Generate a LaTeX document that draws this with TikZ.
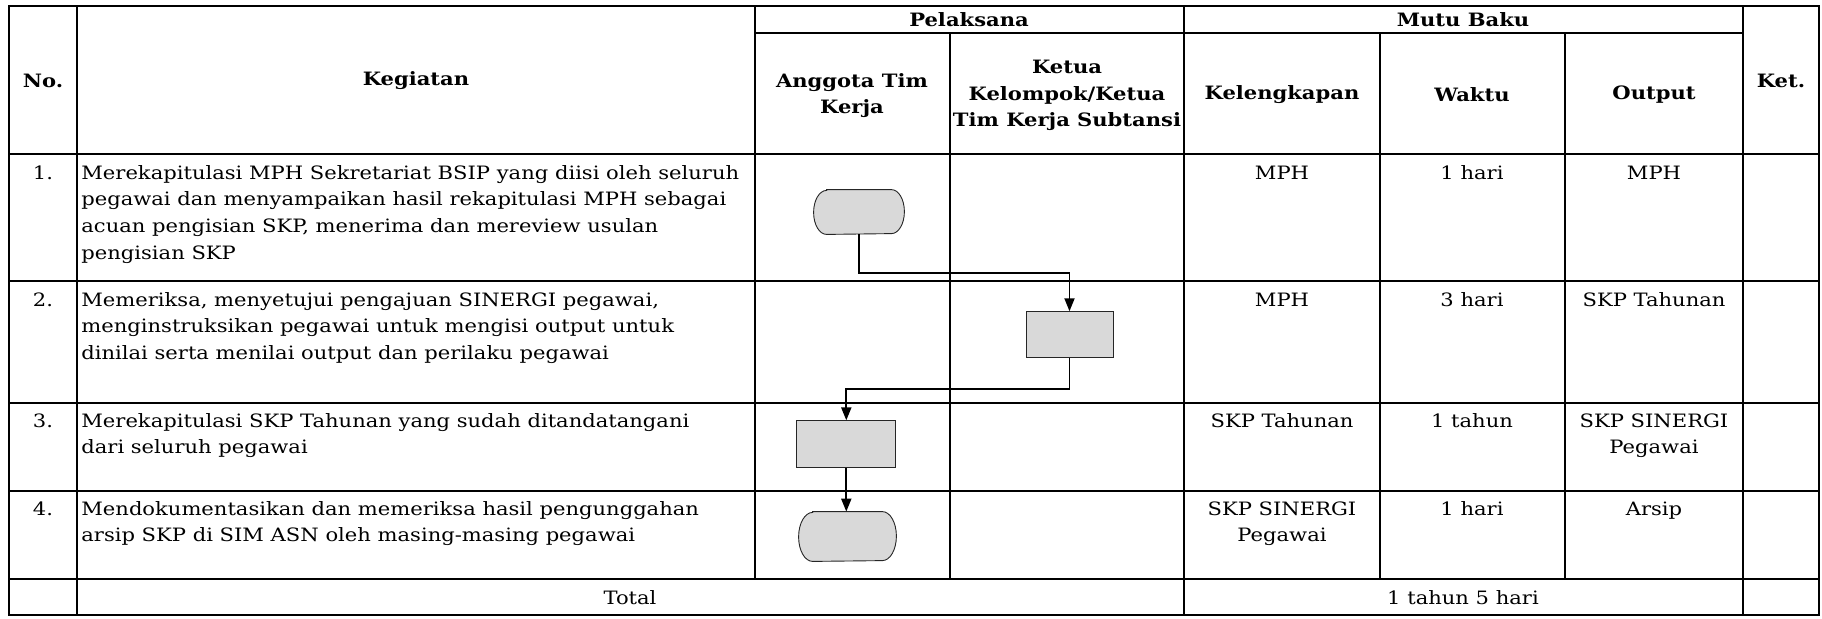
\documentclass[tikz,border=0pt]{standalone}
\usepackage{fontspec}
\setmainfont{DejaVu Serif}[FakeStretch=1.145]
\usetikzlibrary{arrows.meta,calc}
\newcommand{\bodyfont}{\fontsize{9.2}{13.35}\selectfont}
\newcommand{\headfont}{\fontsize{9.2}{13.35}\selectfont\bfseries}
% terminator outline drawn around a named node: #1 name, #2 corner x radius, #3 half height
\newcommand{\termoutline}[3]{%
  \draw[termdraw] ($(#1.north west)+(#2,0)$) -- ($(#1.north east)+(-#2,0)$)
    arc[start angle=90,end angle=-90,x radius=#2,y radius=#3]
    -- ($(#1.south west)+(#2,0)$)
    arc[start angle=270,end angle=90,x radius=#2,y radius=#3] -- cycle;}
\begin{document}
\begin{tikzpicture}[x=0.5pt,y=-0.5pt,
  grid/.style={line width=0.95pt},
  body/.style={inner sep=0pt,font=\bodyfont},
  lefttext/.style={body,anchor=north west,align=left},
  ctext/.style={body,anchor=north,align=center},
  head/.style={inner sep=0pt,font=\headfont,align=center},
  termnode/.style={rectangle,draw=none,inner sep=0pt},
  termdraw/.style={draw=black!85,line width=0.45pt,fill=black!15},
  proc/.style={rectangle,draw=black!85,line width=0.45pt,fill=black!15,inner sep=0pt},
  conn/.style={line width=0.95pt,-{Triangle[length=6.5pt,width=5pt]}}]
\useasboundingbox (0,0) rectangle (1822,618);
% grid
\draw[grid] (9,6) rectangle (1819,615);
\foreach \y in {154,281,403,491,579} \draw[grid] (9,\y) -- (1819,\y);
\draw[grid] (755,33) -- (1743,33);
\draw[grid] (77,6) -- (77,615);
\draw[grid] (755,6) -- (755,579);
\draw[grid] (950,33) -- (950,579);
\draw[grid] (1184,6) -- (1184,615);
\draw[grid] (1380,33) -- (1380,579);
\draw[grid] (1565,33) -- (1565,579);
\draw[grid] (1743,6) -- (1743,615);
% header
\node[head] (hno) at (43,81) {No.};
\node[head] (hkeg) at (416,81) {Kegiatan};
\node[head] (hpel) at (969,20) {Pelaksana};
\node[head] (hmutu) at (1463,20) {Mutu Baku};
\node[head] (hket) at (1781,81) {Ket.};
\node[head] (hang) at (852,95.5) {Anggota Tim\\Kerja};
\node[head] (hketua) at (1067,95.5) {Ketua\\Kelompok/Ketua\\Tim Kerja Subtansi};
\node[head] (hkel) at (1282,95) {Kelengkapan};
\node[head] (hwak) at (1472,95) {Waktu};
\node[head] (hout) at (1654,95) {Output};
% numbers
\node[ctext] (n1) at (43,160) {\strut 1.};
\node[ctext] (n2) at (43,287) {\strut 2.};
\node[ctext] (n3) at (43,408) {\strut 3.};
\node[ctext] (n4) at (43,496) {\strut 4.};
% activities
\node[lefttext] (k1) at (81,160) {\strut Merekapitulasi MPH Sekretariat BSIP yang diisi oleh seluruh\\pegawai dan menyampaikan hasil rekapitulasi MPH sebagai\\acuan pengisian SKP, menerima dan mereview usulan\\pengisian SKP};
\node[lefttext] (k2) at (81,287) {\strut Memeriksa, menyetujui pengajuan SINERGI pegawai,\\menginstruksikan pegawai untuk mengisi output untuk\\dinilai serta menilai output dan perilaku pegawai};
\node[lefttext] (k3) at (81,408) {\strut Merekapitulasi SKP Tahunan yang sudah ditandatangani\\dari seluruh pegawai};
\node[lefttext] (k4) at (81,496) {\strut Mendokumentasikan dan memeriksa hasil pengunggahan\\arsip SKP di SIM ASN oleh masing-masing pegawai};
% mutu baku
\node[ctext] (l1) at (1282,160) {\strut MPH};
\node[ctext] (w1) at (1472,160) {\strut 1 hari};
\node[ctext] (o1) at (1654,160) {\strut MPH};
\node[ctext] (l2) at (1282,287) {\strut MPH};
\node[ctext] (w2) at (1472,287) {\strut 3 hari};
\node[ctext] (o2) at (1654,287) {\strut SKP Tahunan};
\node[ctext] (l3) at (1282,408) {\strut SKP Tahunan};
\node[ctext] (w3) at (1472,408) {\strut 1 tahun};
\node[ctext] (o3) at (1654,408) {\strut SKP SINERGI\\Pegawai};
\node[ctext] (l4) at (1282,496) {\strut SKP SINERGI\\Pegawai};
\node[ctext] (w4) at (1472,496) {\strut 1 hari};
\node[ctext] (o4) at (1654,496) {\strut Arsip};
% total
\node[body] (tot) at (630,598) {Total};
\node[body] (totv) at (1463,598) {1 tahun 5 hari};
% flow shapes
\node[termnode,minimum width=45pt,minimum height=22pt] (s1) at (859,212) {};
\termoutline{s1}{6.5pt}{11pt}
\node[proc,minimum width=43.5pt,minimum height=23pt] (r2) at (1069.5,334.7) {};
\node[proc,minimum width=49.5pt,minimum height=23.5pt] (r3) at (846.3,444.3) {};
\node[termnode,minimum width=48.5pt,minimum height=24.5pt] (s4) at (847.5,536.5) {};
\termoutline{s4}{7pt}{12.25pt}
\coordinate (j1) at (859,273);
\coordinate (j2) at (1069.5,389);
\draw[conn] (s1.south) -- (j1) -| (r2.north);
\draw[conn] (r2.south) -- (j2) -| (r3.north);
\draw[conn] (r3.south) -- (r3.south |- s4.north);
\end{tikzpicture}
\end{document}
